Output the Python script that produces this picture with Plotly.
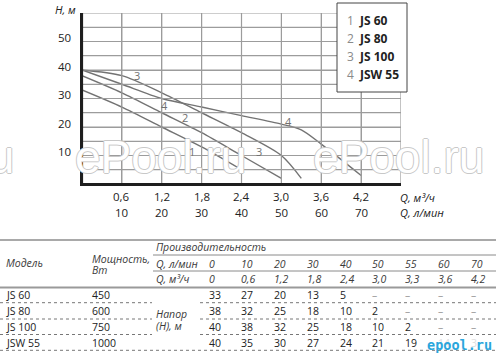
import plotly.graph_objects as go

# ---------------- data ----------------
flow_lpm = [0, 10, 20, 30, 40, 50, 55, 60, 70]
flow_m3h = ["0", "0,6", "1,2", "1,8", "2,4", "3,0", "3,3", "3,6", "4,2"]
models = ["JS 60", "JS 80", "JS 100", "JSW 55"]
power_w = ["450", "600", "750", "1000"]
head_js60 = [33, 27, 20, 13, 5, None, None, None, None]
head_js80 = [38, 32, 25, 18, 10, 2, None, None, None]
head_js100 = [40, 38, 32, 25, 18, 10, 2, None, None]
head_jsw55 = [40, 35, 30, 27, 24, 21, 19, 14, 3]
heads = [head_js60, head_js80, head_js100, head_jsw55]

x_tick_lpm = [10, 20, 30, 40, 50, 60, 70]
x_tick_m3h = ["0,6", "1,2", "1,8", "2,4", "3,0", "3,6", "4,2"]
y_ticks = [10, 20, 30, 40, 50]
x_grid = [0, 10, 20, 30, 40, 50, 60, 70, 80]
y_grid = [0, 5, 10, 15, 20, 25, 30, 35, 40, 45, 50, 55, 60]
X_MAX, Y_MAX = 80, 60

FONT = "Open Sans"
W, H = 496, 355
L, R, T, B = 82, 401, 13, 184
GRID = "#9c9c9c"


def fx(px):
    return (px - L) / (R - L)


def fy(py):
    return (B - py) / (B - T)


fig = go.Figure()

for h in heads:
    xs = [x for x, v in zip(flow_lpm, h) if v is not None]
    ys = [v for v in h if v is not None]
    fig.add_trace(go.Scatter(x=xs, y=ys, mode="lines",
                             line=dict(color="#737373", width=1.4, shape="spline", smoothing=0.8),
                             hoverinfo="skip", showlegend=False))

ann = []
shapes = []

# grid lines as shapes on the data axes (drawn above, plus the layout grid)
for v in x_grid[1:]:
    shapes.append(dict(type="line", xref="x", yref="y", x0=v, x1=v, y0=0, y1=Y_MAX,
                       line=dict(color=GRID, width=1.2), layer="above"))
for v in y_grid[1:]:
    shapes.append(dict(type="line", xref="x", yref="y", x0=0, x1=X_MAX, y0=v, y1=v,
                       line=dict(color=GRID, width=1.2), layer="above"))
shapes.append(dict(type="line", xref="x", yref="y", x0=0, x1=0, y0=0, y1=Y_MAX,
                   line=dict(color="#1e1e1e", width=2.2), layer="above"))
shapes.append(dict(type="line", xref="x", yref="y", x0=0, x1=X_MAX, y0=0, y1=0,
                   line=dict(color="#1e1e1e", width=2.2), layer="above"))

# watermarks (outlined look)
wm_font = dict(family="Liberation Sans", size=46, color="white",
               shadow="1px 0 0 #c8c8c8, -1px 0 0 #c8c8c8, 0 1px 0 #c8c8c8, 0 -1px 0 #c8c8c8")
for cx in [160, 398, -72]:
    ann.append(dict(x=fx(cx), y=fy(157), xref="paper", yref="paper", text="ePool.ru",
                    showarrow=False, font=wm_font, xanchor="center", yanchor="middle"))

# curve number labels
curve_labels = [("3", 13.8, 37.9), ("4", 20.6, 27.6), ("2", 25.8, 23.2),
                ("1", 27.5, 11.4), ("3", 44.4, 11.4), ("4", 51.7, 22.0)]
for t, x, y in curve_labels:
    ann.append(dict(x=x, y=y, xref="x", yref="y", text=t, showarrow=False,
                    font=dict(family=FONT, size=11, color="#707070")))

# y tick labels
for v in y_ticks:
    ann.append(dict(x=fx(73), y=v, xref="paper", yref="y", yshift=4, text=str(v), showarrow=False,
                    xanchor="right", yanchor="middle", font=dict(family=FONT, size=11.5, color="#222")))

# x tick labels, two rows
for v, m in zip(x_tick_lpm, x_tick_m3h):
    ann.append(dict(x=v, y=fy(196), xref="x", yref="paper", text=m, showarrow=False,
                    font=dict(family=FONT, size=11.5, color="#222"), yanchor="middle"))
    ann.append(dict(x=v, y=fy(212), xref="x", yref="paper", text=str(v), showarrow=False,
                    font=dict(family=FONT, size=11.5, color="#222"), yanchor="middle"))

# axis titles
ann.append(dict(x=fx(53), y=fy(9), xref="paper", yref="paper", text="<i>H, м</i>", showarrow=False,
                xanchor="left", yanchor="middle", font=dict(family=FONT, size=11, color="#222")))
ann.append(dict(x=fx(398), y=fy(197), xref="paper", yref="paper", text="<i>Q, м³/ч</i>", showarrow=False,
                xanchor="left", yanchor="middle", font=dict(family=FONT, size=11, color="#222")))
ann.append(dict(x=fx(398), y=fy(212), xref="paper", yref="paper", text="<i>Q, л/мин</i>", showarrow=False,
                xanchor="left", yanchor="middle", font=dict(family=FONT, size=11, color="#222")))

# legend box
shapes.append(dict(type="rect", xref="paper", yref="paper", x0=fx(337), x1=fx(407), y0=fy(92), y1=fy(3),
                   fillcolor="white", line=dict(color="#444", width=1), layer="above"))
for i, m in enumerate(models):
    yy = fy(20 + 18 * i)
    ann.append(dict(x=fx(356), y=yy, xref="paper", yref="paper", text=str(i + 1), showarrow=False,
                    xanchor="right", yanchor="middle", font=dict(family=FONT, size=12, color="#8a8a8a")))
    ann.append(dict(x=fx(356.5), y=yy, xref="paper", yref="paper", text="<b>%s</b>" % m, showarrow=False,
                    xanchor="left", yanchor="middle", font=dict(family=FONT, size=12, color="#222")))

# ---------------- table ----------------
TF = 10.5
hdr_col = "#3a3a3a"


def tx(px, py, text, color="#222", italic=False, size=TF):
    if italic:
        text = "<i>%s</i>" % text
    ann.append(dict(x=fx(px), y=fy(py), xref="paper", yref="paper", text=text, showarrow=False,
                    xanchor="left", yanchor="middle", font=dict(family=FONT, size=size, color=color)))


def hline(py, x0, x1, color, width, dash="solid"):
    shapes.append(dict(type="line", xref="paper", yref="paper", x0=fx(x0), x1=fx(x1), y0=fy(py), y1=fy(py),
                       line=dict(color=color, width=width, dash=dash)))


hline(240, 0, 496, "#555", 1.2)
hline(255, 153, 496, "#8a8a8a", 1)
hline(271, 153, 496, "#8a8a8a", 1)
hline(287.5, 0, 496, "#9a9a9a", 2)

tx(4, 263, "Модель", hdr_col, True)
tx(90, 258.5, "Мощность,", hdr_col, True)
tx(90, 269.5, "Вт", hdr_col, True)
tx(154, 246.5, "Производительность", hdr_col, True)
tx(154, 263.5, "Q, л/мин", hdr_col, True)
tx(154, 279, "Q, м³/ч", hdr_col, True)

col_x = [206.5 + 32.75 * i for i in range(len(flow_lpm))]
for cx, q, m3 in zip(col_x, flow_lpm, flow_m3h):
    tx(cx, 263.5, str(q), hdr_col, True)
    tx(cx, 279, m3, hdr_col, True)

row_y = [294.5, 311, 326.5, 342.5]
line_y = [302.7, 319, 334.5, 350.3]
for ry, ly, m, p, h in zip(row_y, line_y, models, power_w, heads):
    tx(4, ry, m)
    tx(90, ry, p)
    for cx, v in zip(col_x, h):
        if v is None:
            tx(cx, ry, "–", "#9a9a9a")
        else:
            tx(cx, ry, str(v), "#dddddd" if cx > 430 and m == "JSW 55" else "#222")
for ly in line_y[:-1]:
    hline(ly, 0, 152, "#777", 1, "dot")
    hline(ly, 200, 496, "#777", 1, "dot")
hline(line_y[-1], 0, 496, "#777", 1, "dot")

tx(154, 314, "Напор", hdr_col, True)
tx(154, 325.5, "(Н), м", hdr_col, True)

# logo
ann.append(dict(x=fx(459), y=fy(345), xref="paper", yref="paper", text="<b>epool.ru</b>", showarrow=False,
                xanchor="center", yanchor="middle",
                font=dict(family="DejaVu Sans Mono", size=13.5, color="#2aa6dc")))

fig.update_layout(
    width=W, height=H, margin=dict(l=L, r=W - R, t=T, b=H - B),
    paper_bgcolor="white", plot_bgcolor="white",
    annotations=ann, shapes=shapes, showlegend=False,
    xaxis=dict(range=[0, X_MAX], showticklabels=False, tickmode="array", tickvals=x_grid,
               showgrid=True, gridcolor=GRID, gridwidth=1, zeroline=False,
               showline=True, linecolor="#1e1e1e", linewidth=2, ticks=""),
    yaxis=dict(range=[0, Y_MAX], showticklabels=False, tickmode="array", tickvals=y_grid,
               showgrid=True, gridcolor=GRID, gridwidth=1, zeroline=False,
               showline=True, linecolor="#1e1e1e", linewidth=2, ticks=""),
)

fig.write_html("out.html")
